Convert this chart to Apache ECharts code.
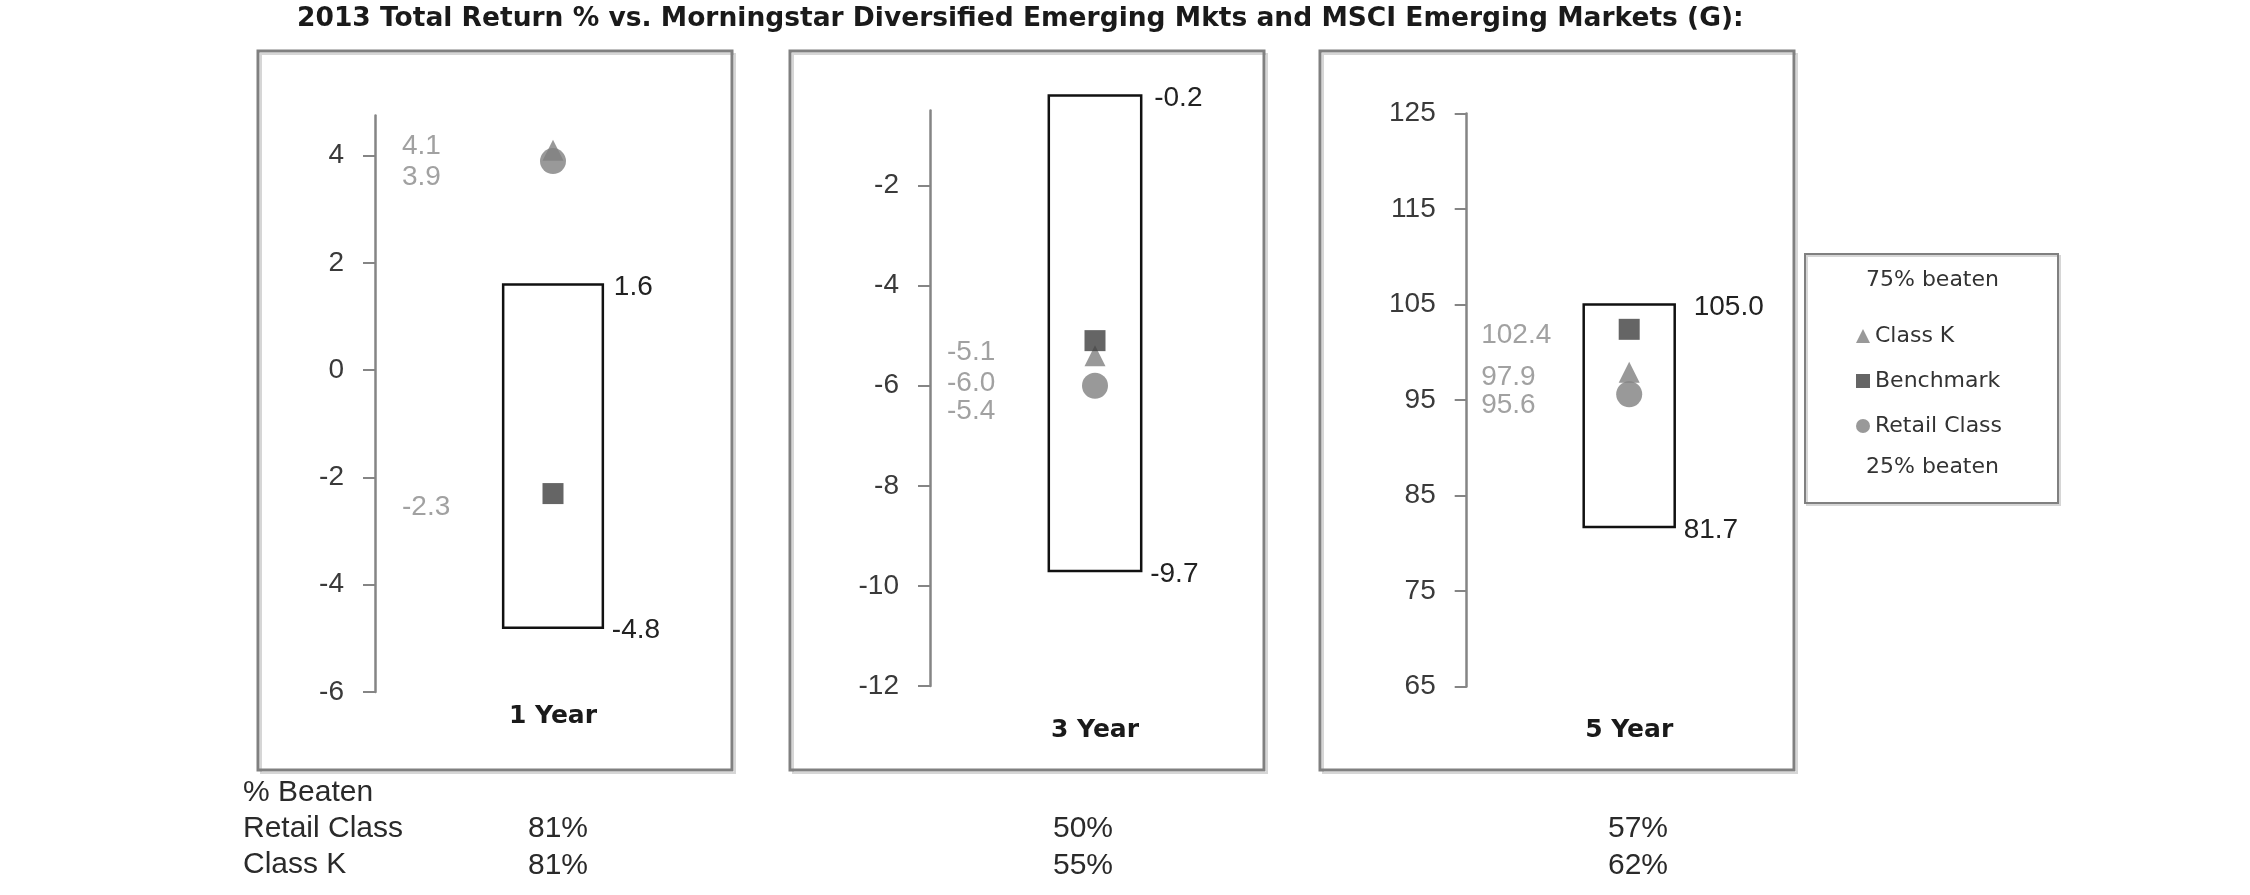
<!DOCTYPE html>
<html><head><meta charset="utf-8">
<script src="https://cdn.jsdelivr.net/npm/echarts@6/dist/echarts.min.js"></script>
<style>html,body{margin:0;padding:0;background:#fff}#c{width:2250px;height:895px}</style>
</head><body><div id="c"></div>
<script>
// ---------------- data ----------------
const chartTitle = '2013 Total Return % vs. Morningstar Diversified Emerging Mkts and MSCI Emerging Markets (G):';
const periods = ['1 Year', '3 Year', '5 Year'];
const classK = [4.1, -5.4, 97.9];
const benchmark = [-2.3, -5.1, 102.4];
const retail = [3.9, -6.0, 95.6];
const beaten75 = [1.6, -0.2, 105.0];   // top of box: 75% beaten
const beaten25 = [-4.8, -9.7, 81.7];   // bottom of box: 25% beaten
const yTicks1 = [-6, -4, -2, 0, 2, 4];
const yTicks3 = [-12, -10, -8, -6, -4, -2];
const yTicks5 = [65, 75, 85, 95, 105, 115, 125];
const yMin = [-6, -12, 65];
const yMax = [4.75, -0.5, 125];
const pctBeatenRetail = [81, 50, 57];
const pctBeatenK = [81, 55, 62];
const legendNames = ['Class K', 'Benchmark', 'Retail Class'];
const legendTop = '75% beaten';
const legendBottom = '25% beaten';

// ---------------- layout / style ----------------
const FONT = '"Liberation Sans", Arial, Helvetica, sans-serif';
const WIDE = '"DejaVu Sans", "Liberation Sans", Arial, sans-serif';
const yTicks = [yTicks1, yTicks3, yTicks5];
const grids = [
  {left: 375, top: 115.5, width: 356, height: 576.5},
  {left: 930, top: 110.4, width: 330, height: 575.6},
  {left: 1466.7, top: 113.5, width: 325, height: 573}
];
const panels = [[258, 51, 474, 719], [790, 51, 474, 719], [1320, 51, 474, 719]];
const catMargin = [11.5, 31.5, 31];
const labelDx = [-151, -148, -148];
const dyK = [-4, 56, 5], dyB = [14, 11.5, 6], dyR = [16, -2, 11];
const topLabelDx = [11, 13, 19];
const tableColX = [528, 1053, 1608];
const GREY = '#7f7f7f', DARK = '#3f3f3f';

const chart = echarts.init(document.getElementById('c'), null, {renderer: 'canvas'});

const xAxes = [], yAxes = [], series = [];
grids.forEach((g, i) => {
  xAxes.push({
    gridIndex: i, type: 'category', data: [periods[i]],
    axisLine: {show: false}, axisTick: {show: false}, splitLine: {show: false},
    axisLabel: {margin: catMargin[i], fontSize: 25, fontWeight: 'bold', color: '#1a1a1a', fontFamily: WIDE}
  });
  yAxes.push({
    gridIndex: i, type: 'value', min: yMin[i], max: yMax[i],
    splitLine: {show: false},
    axisLine: {show: true, lineStyle: {color: '#858585', width: 2.5}},
    axisTick: {show: true, length: 12, customValues: yTicks[i], lineStyle: {color: '#858585', width: 2}},
    axisLabel: {margin: 31, customValues: yTicks[i], fontSize: 28, color: '#3a3a3a', fontFamily: FONT}
  });
  // box: 25% beaten .. 75% beaten
  const tdx = topLabelDx[i];
  series.push({
    type: 'custom', name: 'range', xAxisIndex: i, yAxisIndex: i, z: 2,
    data: [[0, beaten25[i], beaten75[i]]],
    encode: {x: 0, y: [1, 2]},
    renderItem: function (params, api) {
      const lo = api.value(1), hi = api.value(2);
      const pHi = api.coord([api.value(0), hi]);
      const pLo = api.coord([api.value(0), lo]);
      const bw = api.size([1, 0])[0] * 0.28;
      const x0 = pHi[0] - bw / 2;
      return {type: 'group', children: [
        {type: 'rect', shape: {x: x0, y: pHi[1], width: bw, height: pLo[1] - pHi[1]},
         style: {fill: '#fff', stroke: '#111', lineWidth: 2.5}},
        {type: 'text', x: x0 + bw + tdx, y: pHi[1] + 3,
         style: {text: hi.toFixed(1), fontSize: 28, fontFamily: FONT, fill: '#222', align: 'left', verticalAlign: 'middle'}},
        {type: 'text', x: x0 + bw + 9, y: pLo[1] + 3,
         style: {text: lo.toFixed(1), fontSize: 28, fontFamily: FONT, fill: '#222', align: 'left', verticalAlign: 'middle'}}
      ]};
    }
  });
  const mk = (name, vals, dys, symbol, size, color, z) => ({
    type: 'scatter', name: name, xAxisIndex: i, yAxisIndex: i, z: z,
    symbol: symbol, symbolSize: size, itemStyle: {color: color},
    label: {show: true, position: 'inside', align: 'left', verticalAlign: 'middle',
            fontSize: 28, fontFamily: FONT, color: '#8a8a8a',
            formatter: p => p.value[1].toFixed(1)},
    data: [{value: [0, vals[i]], label: {offset: [labelDx[i], dys[i]]}}]
  });
  series.push(mk(legendNames[0], classK, dyK, 'triangle', 21, GREY, 3));
  series.push(mk(legendNames[2], retail, dyR, 'circle', 26, GREY, 4));
  series.push(mk(legendNames[1], benchmark, dyB, 'rect', 21, DARK, 5));
});

const graphics = [];
panels.forEach(p => {
  graphics.push({type: 'rect', shape: {x: p[0] + 3, y: p[1] + 3, width: p[2], height: p[3]},
    style: {fill: null, stroke: '#d6d6d6', lineWidth: 2}, z: -2});
  graphics.push({type: 'rect', shape: {x: p[0], y: p[1], width: p[2], height: p[3]},
    style: {fill: null, stroke: '#808080', lineWidth: 3}, z: -1});
});
// legend frame
graphics.push({type: 'rect', shape: {x: 1807, y: 256, width: 253, height: 249},
  style: {fill: null, stroke: '#d6d6d6', lineWidth: 2}, z: -2});
graphics.push({type: 'rect', shape: {x: 1805, y: 254, width: 253, height: 249},
  style: {fill: null, stroke: '#808080', lineWidth: 2}, z: -1});
const txt = (x, y, s, size, color, fam) => ({type: 'text', x: x, y: y,
  style: {text: s, fontSize: size, fontFamily: fam || FONT, fill: color, align: 'left', verticalAlign: 'middle'}});
graphics.push(txt(1866, 280, legendTop, 22, '#333', WIDE));
graphics.push(txt(1866, 467, legendBottom, 22, '#333', WIDE));
// % beaten table
graphics.push(txt(243, 793, '% Beaten', 30, '#2a2a2a'));
graphics.push(txt(243, 829, 'Retail Class', 30, '#2a2a2a'));
graphics.push(txt(243, 865, 'Class K', 30, '#2a2a2a'));
tableColX.forEach((x, i) => {
  graphics.push(txt(x, 829, pctBeatenRetail[i] + '%', 30, '#2a2a2a'));
  graphics.push(txt(x, 866, pctBeatenK[i] + '%', 30, '#2a2a2a'));
});

chart.setOption({
  backgroundColor: '#fff',
  animation: false,
  title: {text: chartTitle, left: 297, top: 6, padding: 0,
    textStyle: {fontSize: 26.5, fontWeight: 'bold', color: '#1a1a1a', fontFamily: WIDE}},
  legend: {data: legendNames, orient: 'vertical', left: 1851, top: 320,
    itemWidth: 14, itemHeight: 14, itemGap: 23, selectedMode: false,
    textStyle: {fontSize: 22, color: '#333', fontFamily: WIDE}},
  grid: grids.map(g => Object.assign({containLabel: false}, g)),
  xAxis: xAxes,
  yAxis: yAxes,
  series: series,
  graphic: {elements: graphics}
});
</script></body></html>
